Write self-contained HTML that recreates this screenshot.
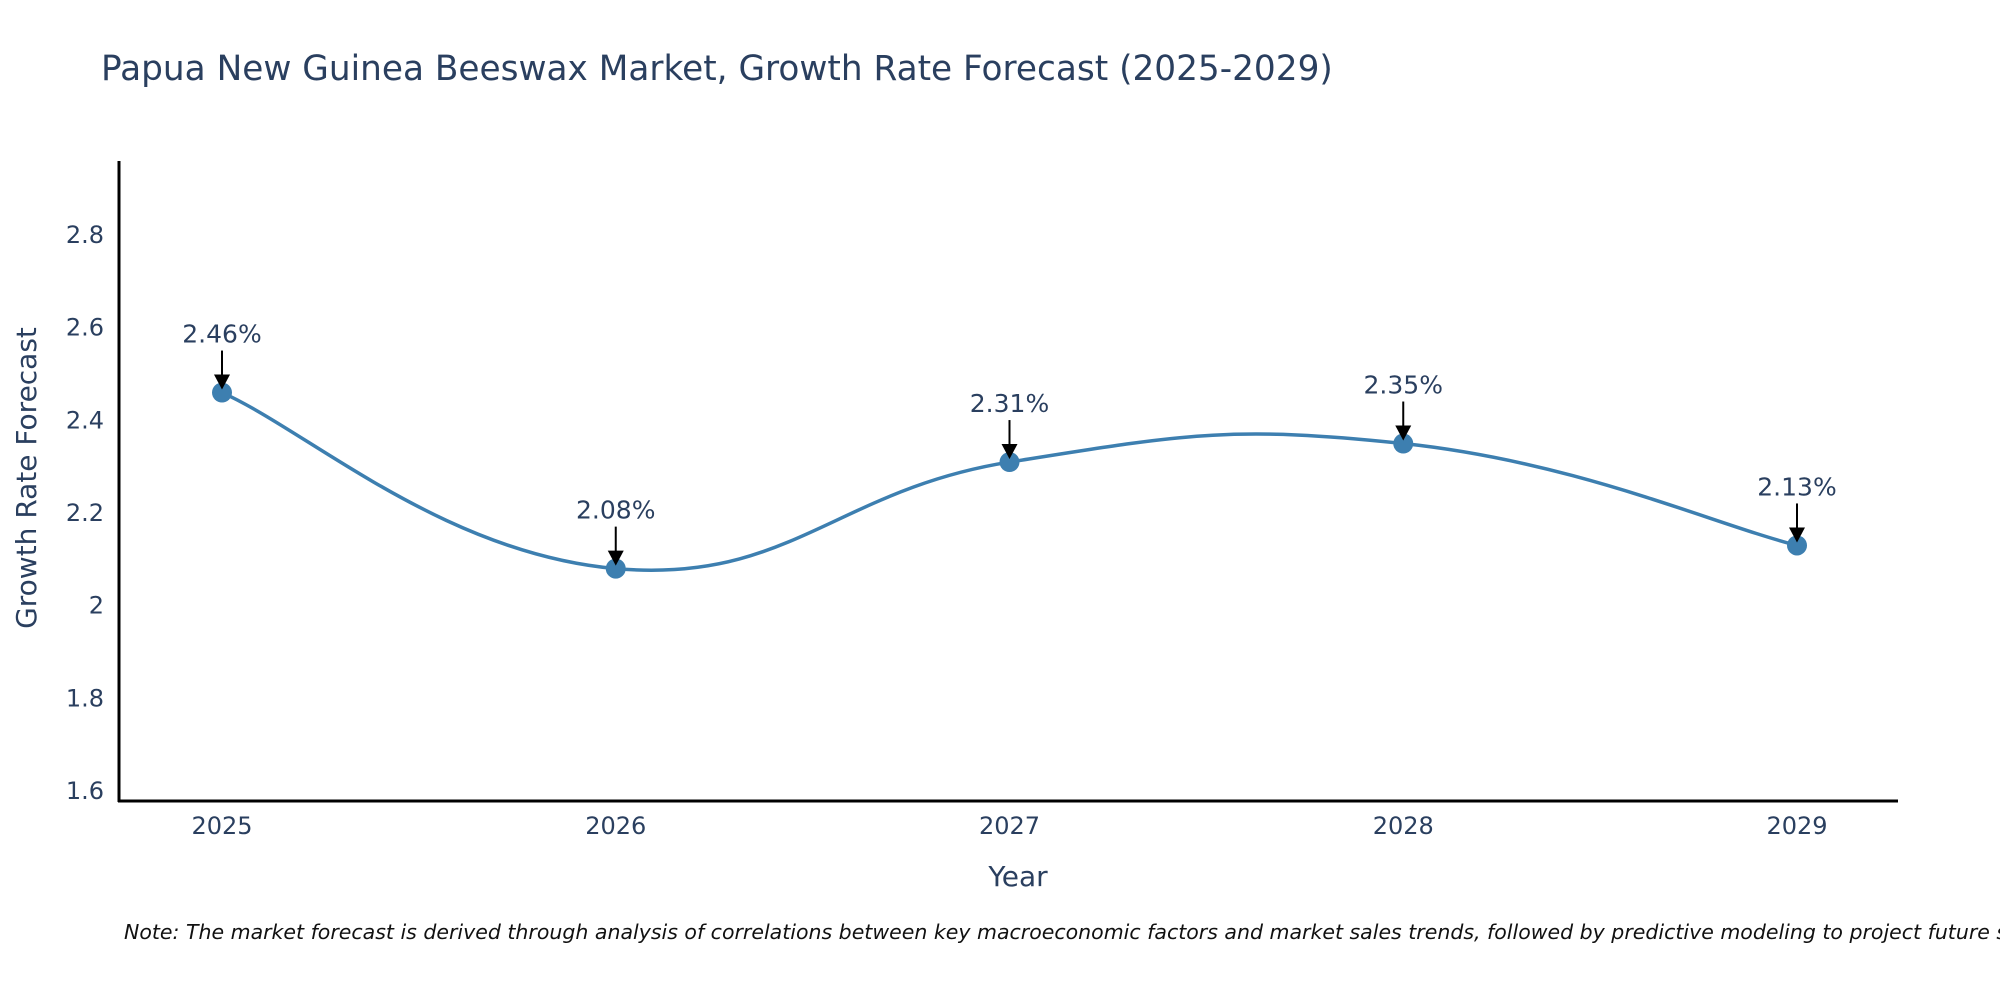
<!DOCTYPE html>
<html><head><meta charset="utf-8"><style>
html,body{margin:0;padding:0;background:#fff;}
svg{display:block;font-family:"DejaVu Sans","Liberation Sans",sans-serif;}
</style></head><body>
<svg id="chart" width="2000" height="1000" viewBox="0 0 2000 1000">
<text x="101" y="80" font-size="34.3" fill="#2a3f5f">Papua New Guinea Beeswax Market, Growth Rate Forecast (2025-2029)</text>
<g id="yticks"></g>
<g id="xticks"></g>
<path id="line" fill="none" stroke="#3d7fb0" stroke-width="3.5"/>
<g id="marks"></g>
<g id="annots"></g>
<line x1="119" y1="161" x2="119" y2="802" stroke="#000" stroke-width="3"/>
<line x1="118" y1="801" x2="1898" y2="801" stroke="#000" stroke-width="3"/>
<text x="1018" y="886" font-size="28" fill="#2a3f5f" text-anchor="middle">Year</text>
<text transform="translate(36,478) rotate(-90)" font-size="28" fill="#2a3f5f" text-anchor="middle">Growth Rate Forecast</text>
<text x="124" y="939" font-size="20.5" font-style="italic" fill="#111">Note: The market forecast is derived through analysis of correlations between key macroeconomic factors and market sales trends, followed by predictive modeling to project future sales.</text>
</svg>
<script>
const years = [2025, 2026, 2027, 2028, 2029];
const values = [2.46, 2.08, 2.31, 2.35, 2.13];
const yTicks = [1.6, 1.8, 2, 2.2, 2.4, 2.6, 2.8];
const yTickLabels = ["1.6", "1.8", "2", "2.2", "2.4", "2.6", "2.8"];

const NS = "http://www.w3.org/2000/svg";
function xs(i){ return 222 + i * 393.75; }
function ys(v){ return 791 - (v - 1.6) * 463.3; }
function mk(tag, attrs, parent){
  const e = document.createElementNS(NS, tag);
  for (const k in attrs) e.setAttribute(k, attrs[k]);
  parent.appendChild(e);
  return e;
}
const yg = document.getElementById('yticks');
yTicks.forEach((v, i) => {
  const t = mk('text', {x: 104, y: ys(v) + 8, 'font-size': 24, fill: '#2a3f5f', 'text-anchor': 'end'}, yg);
  
  
  t.textContent = yTickLabels[i];
});
const xg = document.getElementById('xticks');
years.forEach((y, i) => {
  const t = mk('text', {x: xs(i), y: 834, 'font-size': 24, fill: '#2a3f5f', 'text-anchor': 'middle'}, xg);
  
  
  t.textContent = String(y);
});
const pts = values.map((v, i) => [xs(i), ys(v)]);
let d = 'M' + pts[0][0] + ',' + pts[0][1];
const s = 0.22;
for (let i = 0; i < pts.length - 1; i++) {
  const p0 = pts[Math.max(0, i - 1)], p1 = pts[i], p2 = pts[i + 1], p3 = pts[Math.min(pts.length - 1, i + 2)];
  const c1 = [p1[0] + (p2[0] - p0[0]) * s, p1[1] + (p2[1] - p0[1]) * s];
  const c2 = [p2[0] - (p3[0] - p1[0]) * s, p2[1] - (p3[1] - p1[1]) * s];
  d += ' C' + c1.join(',') + ' ' + c2.join(',') + ' ' + p2.join(',');
}
document.getElementById('line').setAttribute('d', d);
const mg = document.getElementById('marks');
const ag = document.getElementById('annots');
pts.forEach((p, i) => {
  const c = mk('circle', {cx: p[0], cy: p[1], r: 10, fill: '#3d7fb0'}, mg);
  
  
  const ln = mk('line', {x1: p[0], y1: p[1] - 42, x2: p[0], y2: p[1] - 14, stroke: '#000', 'stroke-width': 2}, ag);
  
  
  const ar = mk('polygon', {points: (p[0]-8)+','+(p[1]-18)+' '+(p[0]+8)+','+(p[1]-18)+' '+p[0]+','+(p[1]-3), fill: '#000'}, ag);
  
  
  const t = mk('text', {x: p[0], y: p[1] - 50, 'font-size': 25, fill: '#2a3f5f', 'text-anchor': 'middle'}, ag);
  
  
  t.textContent = values[i].toFixed(2) + '%';
});
</script>
</body></html>
